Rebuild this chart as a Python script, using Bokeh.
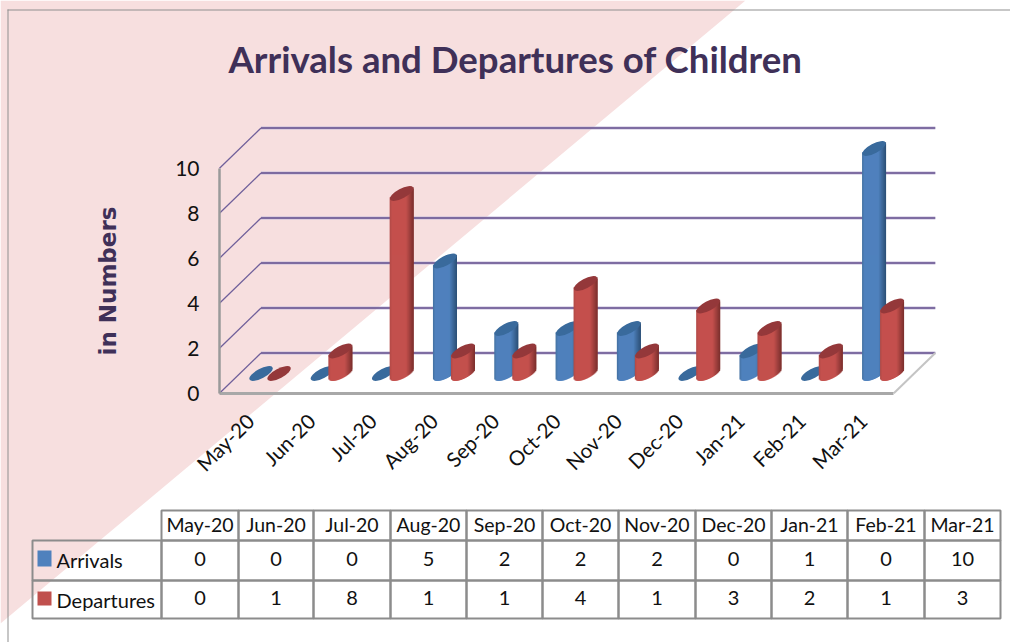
from bokeh.plotting import figure
from bokeh.embed import file_html
from bokeh.resources import INLINE
from bokeh.models import Range1d, FixedTicker, PolyAnnotation, BoxAnnotation, Label
import numpy as np

months = ["May-20","Jun-20","Jul-20","Aug-20","Sep-20","Oct-20","Nov-20","Dec-20","Jan-21","Feb-21","Mar-21"]
arrivals = [0,0,0,5,2,2,2,0,1,0,10]
departures = [0,1,8,1,1,4,1,3,2,1,3]
y_ticks = [0,2,4,6,8,10]
title_text = "Arrivals and Departures of Children"
y_title = "in Numbers"

W, H = 1010, 642
X0, Y0 = 219, 392.7                   # canvas position of the chart's origin
PX_X = 61.3                           # px per category
PX_Y = 22.5                           # px per unit
PURPLE = "#3f3058"
GRID = "#5f4b8b"
TXT = "Lato"

p = figure(width=W, height=H, output_backend="svg", toolbar_location=None,
           x_range=Range1d(-X0 / PX_X, (W - X0) / PX_X), y_range=Range1d(-(H - Y0) / PX_Y, Y0 / PX_Y),
           min_border=0, outline_line_color=None,
           background_fill_alpha=0, border_fill_color="white")
p.grid.visible = False

# background wedge and outer frame
p.add_layout(PolyAnnotation(xs=[0, 745, 0], ys=[0, 0, 623], xs_units="canvas", ys_units="canvas",
                            fill_color="#f7dfdf", fill_alpha=1, line_alpha=0, level="underlay"))
for l, t, r, b in [(7, 9, W, 10), (7, 9, 8, H)]:
    p.add_layout(BoxAnnotation(left=l, right=r, top=t, bottom=b, left_units="canvas", right_units="canvas",
                               top_units="canvas", bottom_units="canvas", fill_color="#8f8f8f", fill_alpha=1,
                               line_alpha=0, level="underlay"))

# title
p.add_layout(Label(x=228, y=58, x_units="canvas", y_units="canvas", text=title_text, text_font=TXT,
                   text_font_size="36.6px", text_font_style="bold", text_color=PURPLE, text_baseline="middle"))

# axes
ax = p.yaxis[0]
ax.fixed_location = 0
ax.ticker = FixedTicker(ticks=y_ticks)
ax.bounds = (0, 10)
ax.axis_line_color = "#9a9a9a"
ax.axis_line_width = 2.5
ax.major_tick_line_color = None
ax.minor_tick_line_color = None
ax.major_label_text_font = TXT
ax.major_label_text_font_size = "21px"
ax.major_label_text_color = "#111111"
ax.major_label_standoff = 14
ax.axis_label = y_title
ax.axis_label_text_font = "DejaVu Sans"
ax.axis_label_text_font_style = "bold"
ax.axis_label_text_font_size = "23px"
ax.axis_label_text_color = PURPLE
ax.axis_label_standoff = 51

bx = p.xaxis[0]
bx.fixed_location = 0
bx.ticker = FixedTicker(ticks=[i + 0.5 for i in range(len(months))])
bx.major_label_overrides = {i + 0.5: m for i, m in enumerate(months)}
bx.major_label_orientation = np.pi / 4
bx.bounds = (0, len(months))
bx.axis_line_color = "#a8a8a8"
bx.axis_line_width = 3
bx.major_tick_line_color = None
bx.minor_tick_line_color = None
bx.major_label_text_font = TXT
bx.major_label_text_font_size = "20.5px"
bx.major_label_text_color = "#111111"
bx.major_label_standoff = 18

# 3D back wall and floor
DX = 41.5 / PX_X
DY = 40.2 / PX_Y
n = len(months)
sx, sy, bkx, bky = [], [], [], []
for v in y_ticks:
    sx.append([0, DX])
    sy.append([v, v + DY])
    bkx.append([DX, n + DX])
    bky.append([v + DY, v + DY])
p.multi_line(sx, sy, line_color="#6f5f9a", line_width=1.3)
p.multi_line(bkx, bky, line_color="#c9bfdc", line_width=3.5, line_alpha=0.7)
p.multi_line(bkx, bky, line_color=GRID, line_width=1.5)
p.line([n, n + DX], [0, DY], line_color="#c4c4c4", line_width=2)

# cylinders
A, B, TH = 13.0, 4.8, np.radians(28)
ca, sa = np.cos(TH), np.sin(TH)
qa = ca**2 / A**2 + sa**2 / B**2
qb = sa * ca * (1 / A**2 - 1 / B**2)
qc = sa**2 / A**2 + ca**2 / B**2
def lower(dx):
    return (-qb * dx - np.sqrt(np.maximum(qb**2 * dx**2 - qc * (qa * dx**2 - 1), 0))) / qc

HALF = 12
dxs = np.arange(-HALF, HALF) + 0.5
def mix(c1, c2, t):
    a = np.array([int(c1[i:i+2], 16) for i in (1, 3, 5)])
    b = np.array([int(c2[i:i+2], 16) for i in (1, 3, 5)])
    c = a + (b - a) * t
    return "#%02x%02x%02x" % tuple(int(round(k)) for k in c)

def shade(d, edge, main, dark):
    t = (d + HALF) / (2 * HALF)
    if t < 0.1:
        return mix(edge, main, t / 0.1)
    if t < 0.68:
        return main
    return mix(main, dark, (t - 0.68) / 0.32)

BASE = (392.7 - 373) / PX_Y           # base centre sits this far above the front edge
def cylinders(values, offset_px, edge, main, dark, cap):
    l, r, b, t, col = [], [], [], [], []
    for i, v in enumerate(values):
        cx = i + 0.5 + offset_px / PX_X
        if v <= 0:
            continue
        for d in dxs:
            off = lower(d) / PX_Y
            l.append(cx + (d - 0.5) / PX_X)
            r.append(cx + (d + 1.5 if d < HALF - 1 else d + 0.5) / PX_X)
            b.append(BASE + off)
            t.append(BASE + v + off + 0.1)
            col.append(shade(d, edge, main, dark))
    p.quad(left=l, right=r, bottom=b, top=t, fill_color=col, line_color=None)
    ex = [i + 0.5 + offset_px / PX_X for i in range(len(values))]
    ey = [BASE + v for v in values]
    p.ellipse(ex, ey, width=2 * A, height=2 * B, width_units="screen", height_units="screen",
              angle=TH, fill_color=cap, line_color=None)

cylinders(arrivals, 10.9, "#44709f", "#4f81bd", "#2b4f75", "#396a9c")
cylinders(departures, 28.9, "#b04a47", "#c4504d", "#7a2f2d", "#94383a")

# data table
col_x = [161, 238, 313, 390, 466, 542, 618, 695, 771, 847, 924, 1000]
row_y = [510, 540, 580, 618]
LEFT = 32
def box(l, t, r, b, fill=None, line=True):
    p.add_layout(BoxAnnotation(left=l, right=r, top=t, bottom=b, left_units="canvas",
                               right_units="canvas", top_units="canvas", bottom_units="canvas",
                               fill_color=fill, fill_alpha=1 if fill else 0,
                               line_color="#8c8c8c", line_width=2, line_alpha=1 if line else 0,
                               level="annotation"))
def text(x, y, s, align="center", size="20px"):
    p.add_layout(Label(x=x, y=y - 1.5, x_units="canvas", y_units="canvas", text=str(s), text_font=TXT,
                       text_font_size=size, text_color="#111111", text_align=align, text_baseline="middle"))
for i, m in enumerate(months):
    box(col_x[i], row_y[0], col_x[i + 1], row_y[1])
    box(col_x[i], row_y[1], col_x[i + 1], row_y[2])
    box(col_x[i], row_y[2], col_x[i + 1], row_y[3])
    cx = (col_x[i] + col_x[i + 1]) / 2
    text(cx, (row_y[0] + row_y[1]) / 2, m, size="19.5px")
    text(cx, (row_y[1] + row_y[2]) / 2, arrivals[i])
    text(cx, (row_y[2] + row_y[3]) / 2, departures[i])
box(LEFT, row_y[1], col_x[0], row_y[2])
box(LEFT, row_y[2], col_x[0], row_y[3])
box(37, 550, 51, 566, fill="#4f81bd", line=False)
box(37, 591, 51, 605, fill="#c0504d", line=False)
text(56, 561, "Arrivals", "left")
text(56, 601, "Departures", "left")

open("out.html", "w").write(file_html(p, INLINE))
